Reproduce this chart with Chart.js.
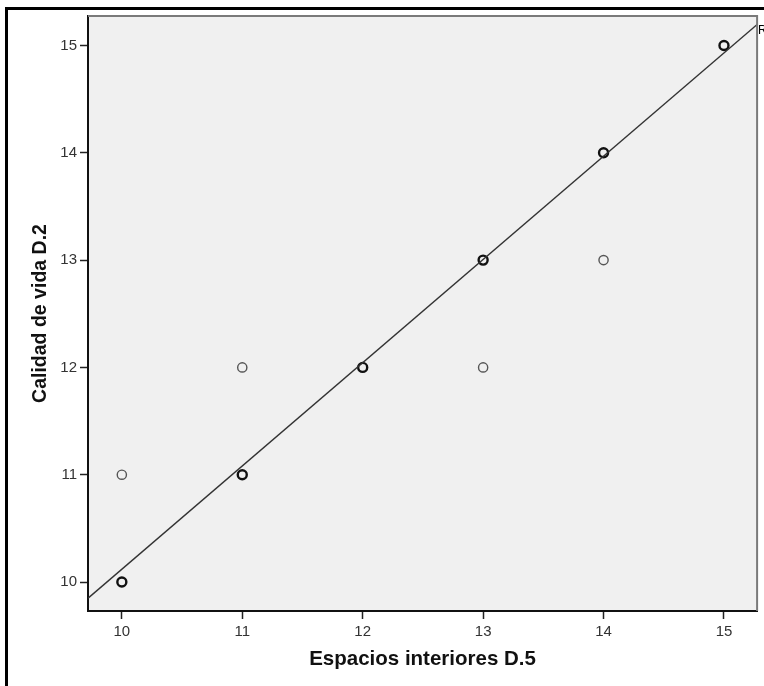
<!DOCTYPE html>
<html>
<head>
<meta charset="utf-8">
<script src="https://cdn.jsdelivr.net/npm/chart.js@4/dist/chart.umd.min.js"></script>
<style>
  html, body { margin: 0; padding: 0; background: #fff; overflow: hidden; }
  #wrap { position: relative; width: 764px; height: 686px; }
  #frame { position: absolute; left: 5px; top: 7px; right: 0; bottom: 0;
           border-left: 3px solid #000; border-top: 3px solid #000; pointer-events: none; }
  canvas { position: absolute; left: 0; top: 0; }
</style>
</head>
<body>
<div id="wrap">
  <canvas id="chart" width="764" height="686"></canvas>
  <div id="frame"></div>
</div>
<script>
(function(){
  'use strict';

  // Points where several cases overlap (drawn heavier)
  var denseX = [10, 11, 12, 13, 14, 15];
  var denseY = [10, 11, 12, 13, 14, 15];
  // Single cases
  var singleX = [10, 11, 13, 14];
  var singleY = [11, 12, 12, 13];
  // Fit line end points, read at the plot edges
  var fitX = [9.72, 15.28];
  var fitY = [9.85, 15.2];
  // Axis ticks
  var xTicks = [10, 11, 12, 13, 14, 15];
  var yTicks = [10, 11, 12, 13, 14, 15];

  var FONT = "Arial, 'Liberation Sans', sans-serif";

  function pts(xs, ys){
    return xs.map(function(x, i){ return {x: x, y: ys[i]}; });
  }

  // Grey plot background, grey top/right edges, clipped "R" label
  var plotDecor = {
    id: 'plotDecor',
    beforeDraw: function(chart){
      var a = chart.chartArea, ctx = chart.ctx;
      ctx.save();
      ctx.fillStyle = '#f0f0f0';
      ctx.fillRect(a.left, a.top, a.right - a.left, a.bottom - a.top);
      ctx.restore();
    },
    afterDraw: function(chart){
      var a = chart.chartArea, ctx = chart.ctx;
      ctx.save();
      ctx.strokeStyle = '#7a7a7a';
      ctx.lineWidth = 2;
      ctx.beginPath();
      ctx.moveTo(a.left, a.top);
      ctx.lineTo(a.right, a.top);
      ctx.lineTo(a.right, a.bottom);
      ctx.stroke();
      ctx.fillStyle = '#000';
      ctx.font = '12px ' + FONT;
      ctx.textBaseline = 'top';
      ctx.fillText('R² Linear = 0,9', a.right + 1, a.top + 9);
      ctx.restore();
    }
  };

  new Chart(document.getElementById('chart').getContext('2d'), {
    type: 'scatter',
    data: {
      datasets: [
        {
          type: 'line',
          data: pts(fitX, fitY),
          borderColor: '#333',
          borderWidth: 1.4,
          pointRadius: 0,
          fill: false,
          clip: 0
        },
        {
          data: pts(singleX, singleY),
          pointStyle: 'circle',
          pointRadius: 4.6,
          borderWidth: 1.4,
          borderColor: '#555',
          backgroundColor: 'rgba(0,0,0,0)'
        },
        {
          data: pts(denseX, denseY),
          pointStyle: 'circle',
          pointRadius: 4.5,
          borderWidth: 2.4,
          borderColor: '#111',
          backgroundColor: 'rgba(0,0,0,0)'
        }
      ]
    },
    options: {
      responsive: false,
      animation: false,
      devicePixelRatio: 1,
      layout: { padding: { left: 8, top: 16, right: 4, bottom: 0 } },
      plugins: { legend: { display: false }, tooltip: { enabled: false } },
      scales: {
        x: {
          type: 'linear',
          min: 9.719,
          max: 15.275,
          afterBuildTicks: function(s){ s.ticks = xTicks.map(function(v){ return {value: v}; }); },
          afterFit: function(s){ s.height = 75; },
          border: { display: true, color: '#111', width: 2 },
          grid: { display: true, drawOnChartArea: false, drawTicks: true, tickLength: 8, tickColor: '#222', tickWidth: 1.5 },
          ticks: { color: '#333', font: { family: FONT, size: 15 }, padding: 4, maxRotation: 0 },
          title: {
            display: true,
            text: 'Espacios interiores D.5',
            color: '#111',
            font: { family: FONT, size: 20.5, weight: 'bold' },
            padding: { top: 0, bottom: 14 }
          }
        },
        y: {
          type: 'linear',
          min: 9.73,
          max: 15.275,
          afterBuildTicks: function(s){ s.ticks = yTicks.map(function(v){ return {value: v}; }); },
          afterFit: function(s){ s.width = 80; },
          border: { display: true, color: '#111', width: 2 },
          grid: { display: true, drawOnChartArea: false, drawTicks: true, tickLength: 8, tickColor: '#222', tickWidth: 1.5 },
          ticks: { color: '#333', font: { family: FONT, size: 15 }, padding: 3 },
          title: {
            display: true,
            text: 'Calidad de vida D.2',
            color: '#111',
            font: { family: FONT, size: 19.5, weight: 'bold' },
            padding: { top: 21, bottom: 0 }
          }
        }
      }
    },
    plugins: [plotDecor]
  });
})();
</script>
</body>
</html>
